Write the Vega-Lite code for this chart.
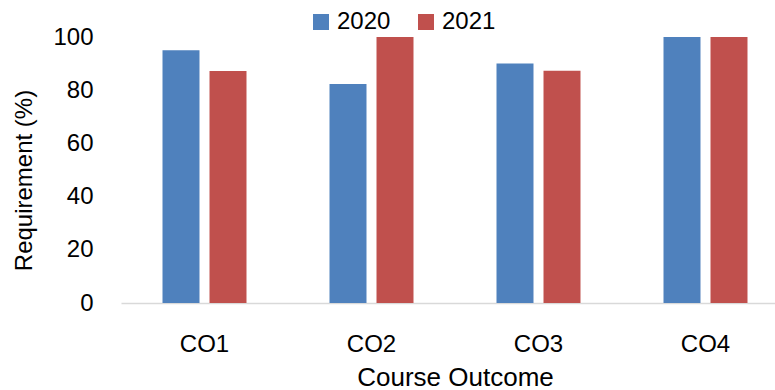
{
  "$schema": "https://vega.github.io/schema/vega-lite/v6.json",
  "autosize": {"type": "none"},
  "padding": {"left": 121, "top": 37, "right": 0, "bottom": 87},
  "width": 668,
  "height": 266,
  "background": "white",
  "config": {"view": {"stroke": null}, "font": "Liberation Sans"},
  "data": {
    "values": [
      {"co": "CO1", "year": "2020", "value": 95},
      {"co": "CO1", "year": "2021", "value": 87.2},
      {"co": "CO2", "year": "2020", "value": 82.3},
      {"co": "CO2", "year": "2021", "value": 100},
      {"co": "CO3", "year": "2020", "value": 90},
      {"co": "CO3", "year": "2021", "value": 87.3},
      {"co": "CO4", "year": "2020", "value": 100},
      {"co": "CO4", "year": "2021", "value": 100}
    ]
  },
  "mark": {"type": "bar"},
  "encoding": {
    "x": {
      "field": "co",
      "type": "nominal",
      "scale": {"paddingInner": 0, "paddingOuter": 0},
      "axis": {
        "title": "Course Outcome",
        "titleFontSize": 26,
        "titleFontWeight": "normal",
        "titleColor": "black",
        "titleBaseline": "alphabetic",
        "titleY": 82,
        "labelAngle": 0,
        "labelFontSize": 24,
        "labelColor": "black",
        "labelBaseline": "alphabetic",
        "labelPadding": 48,
        "ticks": false,
        "tickSize": 0,
        "domainColor": "#d9d9d9",
        "domainWidth": 1.5,
        "grid": false
      }
    },
    "xOffset": {
      "field": "year",
      "type": "nominal",
      "scale": {"paddingInner": 0.213, "paddingOuter": 0.883}
    },
    "y": {
      "field": "value",
      "type": "quantitative",
      "scale": {"domain": [0, 100], "nice": false},
      "axis": {
        "title": "Requirement (%)",
        "titleFontSize": 24,
        "titleFontWeight": "normal",
        "titleColor": "black",
        "titleAngle": -90,
        "titleAlign": "center",
        "titleBaseline": "alphabetic",
        "titleX": -90,
        "titleY": 143,
        "values": [0, 20, 40, 60, 80, 100],
        "labelFontSize": 24,
        "labelColor": "black",
        "labelPadding": 28,
        "ticks": false,
        "tickSize": 0,
        "domain": false,
        "grid": false
      }
    },
    "color": {
      "field": "year",
      "type": "nominal",
      "scale": {"domain": ["2020", "2021"], "range": ["#4F81BD", "#C0504D"]},
      "legend": {
        "title": null,
        "orient": "none",
        "direction": "horizontal",
        "legendX": 188,
        "legendY": -27,
        "symbolType": "square",
        "symbolSize": 256,
        "symbolStrokeWidth": 0,
        "labelFontSize": 24,
        "labelColor": "black",
        "labelOffset": 4,
        "columnPadding": 23
      }
    }
  }
}
